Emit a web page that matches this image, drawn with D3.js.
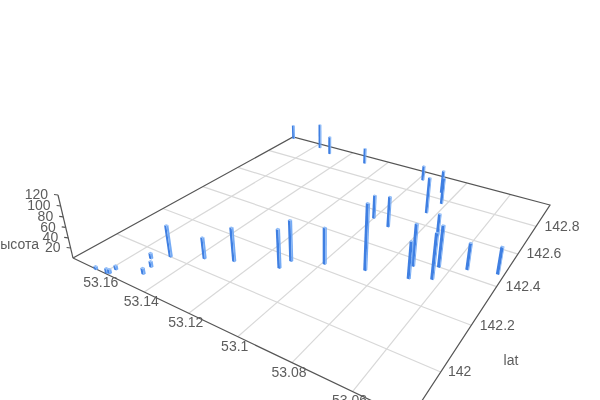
<!DOCTYPE html>
<html><head><meta charset="utf-8"><style>html,body{margin:0;padding:0;background:#fff;overflow:hidden}svg{display:block}text{font-family:"Liberation Sans",Arial,sans-serif;font-size:14px;fill:#5c5c5c;filter:blur(0.3px)}</style></head>
<body><script src="https://cdn.jsdelivr.net/npm/d3@7"></script>
<svg id="c" width="600" height="400"></svg>
<script>
const lon=[53.164,53.159,53.158,53.158,53.148,53.153,53.149,53.148,53.137,53.127,53.111,53.110,53.099,53.085,53.100,53.092,53.072,53.070,53.073,53.063,53.064,53.055,53.045,53.084,53.086,53.082,53.098,53.129,53.149,53.157,53.175];
const lat=[141.834,141.839,141.842,141.865,141.893,141.962,141.931,142.001,142.050,142.088,142.135,142.183,142.226,142.265,142.548,142.524,142.363,142.298,142.564,142.332,142.400,142.435,142.463,142.682,142.851,142.773,142.907,142.915,142.916,142.945,142.964];
const heightV=[6,9,8,8,12,11,11,62,42,66,75,80,71,126,49,63,82,71,45,88,81,52,53,75,49,56,33,36,42,58,34];
const lonTicks=[53.16,53.14,53.12,53.1,53.08,53.06];
const latTicks=[142,142.2,142.4,142.6,142.8];
const heightTicks=[20,40,60,80,100,120];

// camera: floor homography from the four box corners + vertical vanishing point
const corners=[[73,258],[410,419],[550,205],[293,137]];
const VP=[323,1308], K=-15/(323-58);
function solve(A,b){const n=b.length;A=A.map((r,i)=>[...r,b[i]]);for(let i=0;i<n;i++){let p=i;for(let j=i;j<n;j++)if(Math.abs(A[j][i])>Math.abs(A[p][i]))p=j;[A[i],A[p]]=[A[p],A[i]];for(let j=0;j<n;j++)if(j!=i){const f=A[j][i]/A[i][i];for(let k=i;k<=n;k++)A[j][k]-=f*A[i][k];}}return A.map((r,i)=>r[n]/r[i]);}
const M=[],B=[];[[0,0],[1,0],[1,1],[0,1]].forEach((s,i)=>{const[u,v]=s,[x,y]=corners[i];M.push([u,v,1,0,0,0,-u*x,-v*x]);B.push(x);M.push([0,0,0,u,v,1,-u*y,-v*y]);B.push(y);});
const h=solve(M,B);
function proj(u,v,z){const X=h[0]*u+h[1]*v+h[2],Y=h[3]*u+h[4]*v+h[5],W=h[6]*u+h[7]*v+1,k=z*K;return [(X+k*VP[0])/(W+k),(Y+k*VP[1])/(W+k)];}

const sx=d3.scaleLinear().domain([53.1765,53.0429]).range([0,1]);
const sy=d3.scaleLinear().domain([141.834,142.977]).range([0,1]);
const sz=d3.scaleLinear().domain([0,120]).range([0,1]);
const line=d3.line();
const svg=d3.select('#c');

// grid
const grid=svg.append('g').attr('stroke','#d8d8d8').attr('stroke-width',1.2).attr('fill','none');
lonTicks.forEach(t=>grid.append('path').attr('d',line([proj(sx(t),0,0),proj(sx(t),1,0)])));
latTicks.forEach(t=>grid.append('path').attr('d',line([proj(0,sy(t),0),proj(1,sy(t),0)])));

// box edges
const axes=svg.append('g').attr('stroke','#555').attr('stroke-width',1.2).attr('fill','none');
axes.append('path').attr('d',line([proj(0,0,0),proj(1,0,0),proj(1,1,0),proj(0,1,0),proj(0,0,0)]));
axes.append('path').attr('d',line([proj(0,0,0),proj(0,0,1)]));
heightTicks.forEach(t=>{const p=proj(0,0,sz(t));axes.append('path').attr('d',line([p,[p[0]-4,p[1]-0.5]]));});

// labels
const lab=svg.append('g');
lonTicks.forEach(t=>{const p=proj(sx(t),0,0);lab.append('text').attr('x',p[0]-3).attr('y',p[1]+9).attr('dy','.35em').attr('text-anchor','middle').text(String(t));});
const latDx=[19,26,26.5,26,26];
latTicks.forEach((t,i)=>{const p=proj(1,sy(t),0);lab.append('text').attr('x',p[0]+latDx[i]).attr('y',p[1]-0.5).attr('dy','.35em').attr('text-anchor','middle').text(String(t));});
heightTicks.forEach(t=>{const p=proj(0,0,sz(t));lab.append('text').attr('x',p[0]-10).attr('y',p[1]-0.5).attr('dy','.35em').attr('text-anchor','end').text(String(t));});
lab.append('text').attr('x',39).attr('y',244).attr('dy','.35em').attr('text-anchor','end').text('высота');
lab.append('text').attr('x',511).attr('y',360).attr('dy','.35em').attr('text-anchor','middle').text('lat');

// bars
const du=0.0042,dv=0.0034;
const order=d3.range(lon.length).sort((a,b)=>proj(sx(lon[a]),sy(lat[a]),0)[1]-proj(sx(lon[b]),sy(lat[b]),0)[1]);
const bars=svg.append('g');
order.forEach(i=>{
  const u=sx(lon[i]),v=sy(lat[i]),z=sz(heightV[i]);
  const P=(a,b,c)=>proj(u+a*du,v+b*dv,c);
  const g=bars.append('g');
  g.append('path').attr('fill','#3f7fe2').attr('d',line([P(-1,-1,0),P(1,-1,0),P(1,-1,z),P(-1,-1,z)])+'Z');
  g.append('path').attr('fill','#75abf5').attr('d',line([P(1,-1,0),P(1,1,0),P(1,1,z),P(1,-1,z)])+'Z');
  g.append('path').attr('fill','#8fbcf8').attr('d',line([P(-1,-1,z),P(1,-1,z),P(1,1,z),P(-1,1,z)])+'Z');
});
</script></body></html>
